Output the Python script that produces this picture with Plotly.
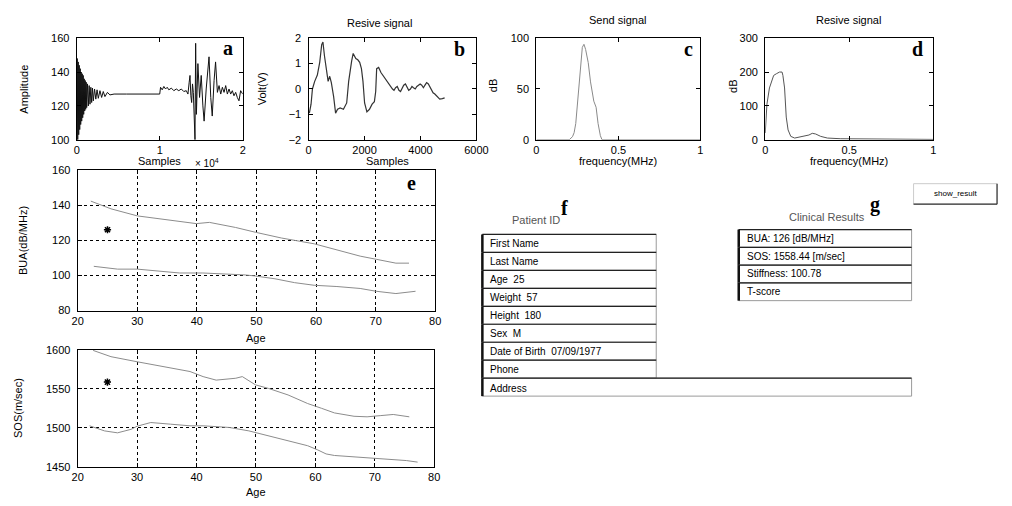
import plotly.graph_objects as go

W, H = 1012, 506

# ---------------- data ----------------
a_samples = [0, 60, 120, 180, 240, 300, 360, 420, 480, 540, 600, 660, 720, 780, 840, 900, 960, 1020, 1080, 1140,
             1200, 1300, 1400, 1500, 1600, 1700, 1800, 1900, 2000, 2150, 2300, 2450, 2600, 2800, 3000, 3200, 3400,
             3700, 4000, 4500, 6000, 8000, 10000, 10100, 10300, 10500, 10700, 10900, 11100, 11400, 11700, 12000,
             12300, 12600, 12900, 13200, 13400, 13550, 13650, 13750, 13850, 13950, 14050,
             14250, 14330, 14420, 14600, 14800, 15000, 15200, 15350, 15600, 15800, 15940, 16150, 16330, 16550,
             16730, 16950, 17150, 17350, 17550, 17750, 17950, 18150, 18350, 18550, 18750, 18950, 19150, 19350,
             19550, 19750, 20000]
a_amplitude = [126, 148, 100, 146, 103, 144, 106, 142, 109, 140, 111, 139, 113, 138, 115, 136, 117, 135, 118, 134,
               119, 133, 120, 132, 121, 131, 122, 130.5, 123, 130, 124, 129.5, 124.5, 129, 125, 128.5, 125.5,
               128, 126.5, 127, 127, 127, 127, 131, 129.5, 131.5, 130, 131, 129.5, 130.5, 129, 130,
               129, 130, 128.5, 129, 127, 134, 138, 126, 122, 133, 128,
               100, 157, 115, 145, 125, 138, 120, 111, 130, 140, 149, 125, 114, 135,
               146, 128, 132, 127, 131, 128, 132, 127, 130, 127, 129, 126, 128, 125,
               123, 129, 127]

b_samples = [30, 90, 140, 220, 315, 400, 470, 515, 570, 640, 700, 757, 815, 897, 967, 1038, 1130, 1247, 1364, 1434,
             1478, 1540, 1595, 1689, 1760, 1828, 1890, 1945, 2003, 2085, 2178, 2272, 2353, 2400, 2434, 2505, 2587,
             2650, 2703, 2760, 2820, 2880, 2937, 3000, 3054, 3110, 3170, 3230, 3287, 3350, 3400, 3462, 3520, 3579,
             3640, 3695, 3750, 3812, 3870, 3930, 3987, 4045, 4104, 4160, 4220, 4280, 4337, 4400, 4450, 4512, 4600,
             4687, 4780, 4862]
b_volt = [-0.95, -0.6, 0.0, 0.3, 0.55, 1.05, 1.75, 1.85, 1.3, 0.7, 0.3, 0.5, 0.25, -0.3, -0.95, -0.8, -0.75, -0.8,
          -0.55, 0.3, 0.7, 1.1, 1.4, 1.2, 1.15, 1.05, 0.8, 0.3, -0.55, -0.9, -0.8, -0.6, -0.5, -0.1, 0.8, 0.85, 0.65,
          0.55, 0.45, 0.35, 0.3, 0.2, 0.1, 0.0, -0.05, 0.05, 0.1, -0.05, -0.1, 0.05, 0.15, 0.2, 0.05, -0.05,
          0.0, 0.1, 0.05, 0.0, 0.1, 0.15, 0.2, 0.15, 0.05, 0.15, 0.25, 0.2, 0.1, -0.05, -0.15, -0.2, -0.3,
          -0.4, -0.38, -0.35]

c_freq = [0, 0.2, 0.22, 0.23, 0.24, 0.25, 0.26, 0.27, 0.28, 0.29, 0.30, 0.316, 0.33, 0.35, 0.364, 0.376, 0.39, 0.40,
          0.5, 1.0]
c_db = [0, 0, 3, 7, 16, 36, 58, 77, 91, 94, 89, 76, 57, 38, 32, 16, 4, 0, 0, 0]

d_freq = [0.0, 0.006, 0.01, 0.025, 0.04, 0.05, 0.066, 0.085, 0.10, 0.105, 0.115, 0.12, 0.125, 0.136, 0.152, 0.175,
          0.224, 0.26, 0.28, 0.30, 0.33, 0.37, 0.45, 0.64, 0.84, 1.0]
d_db = [20, 77, 105, 153, 177, 190, 195, 200, 200, 190, 153, 115, 67, 29, 10, 5, 10, 14, 19, 17, 10, 5, 3, 2, 2, 1]

e_age_upper = [22.2, 25.6, 30, 35.5, 39.9, 42.1, 46.5, 49.8, 54.2, 59.7, 63.5, 67.4, 70.1, 73.4, 75.6]
e_bua_upper = [142.3, 137.9, 133.9, 131.3, 129.5, 130.2, 127.3, 124.6, 121.3, 118, 114.7, 111, 109.2, 107, 107]
e_age_lower = [22.7, 26.7, 30, 33.3, 37.1, 41, 44.3, 48.1, 49.8, 53.1, 56.4, 59.7, 63.5, 67.4, 70.1, 73.4, 76.7]
e_bua_lower = [105.2, 103.6, 103.6, 102.5, 101.4, 101.4, 101, 100.3, 99.7, 98.1, 95.9, 94.4, 93.7, 92.6, 91, 89.7, 91]

f_age_upper = [22.6, 25.6, 30, 34.5, 38.9, 41.1, 43.3, 46.6, 47.7, 49.9, 52.1, 55.4, 58.7, 61, 63.2, 66.5, 68.7,
               70.9, 73.1, 75.8]
f_sos_upper = [1599, 1591, 1584.5, 1578, 1572, 1565.5, 1561, 1563.4, 1565.5, 1555, 1550.4, 1542, 1531, 1525, 1519,
               1514.7, 1514, 1515.5, 1517, 1514]
f_age_lower = [22, 24.5, 26.7, 29, 30, 32.3, 35.6, 38.9, 41.1, 45.5, 48.8, 52.1, 55.4, 58.7, 60.4, 61.8, 63.2, 67.6,
               72, 75.3, 77.2]
f_sos_lower = [1502.5, 1496, 1493.5, 1498, 1502, 1506.7, 1504.6, 1502.5, 1502.5, 1500.4, 1496, 1489.9, 1483.6, 1477,
               1471.6, 1466.5, 1464.5, 1462, 1460, 1458, 1456]

patient_age = [25]
patient_bua = [126]
patient_sos = [1558.44]

patient_fields = ["First Name", "Last Name", "Age  25", "Weight  57", "Height  180", "Sex  M",
                  "Date of Birth  07/09/1977", "Phone"]
address_field = "Address"
clinical_fields = ["BUA: 126 [dB/MHz]", "SOS: 1558.44 [m/sec]", "Stiffness: 100.78", "T-score"]

a_xticks = [0, 10000, 20000]
a_xticklabels = ["0", "1", "2"]

# ---------------- layout helpers ----------------
FONT = "Liberation Sans"


def px(x):
    return x / W


def py(y):
    return 1 - y / H


fig = go.Figure()

panels = {
    # name: (left, right, top, bottom) in pixels
    "a": (72, 241, 33, 137),
    "b": (308, 479, 33, 137),
    "c": (540, 707, 33, 137),
    "d": (773, 944, 33, 137),
    "e": (73, 437, 168, 312),
    "f": (73, 436, 352, 472),
}
order = ["a", "b", "c", "d", "e", "f"]
ax_id = {k: (i + 1) for i, k in enumerate(order)}


def axis(domain, rng, grid=False, **kw):
    d = dict(domain=domain, range=rng, showline=True, mirror="ticks", linecolor="black", linewidth=1.2,
             ticks="inside", ticklen=4, tickcolor="black", tickfont=dict(family=FONT, size=11, color="black"),
             zeroline=False, showgrid=grid, fixedrange=True)
    if grid:
        d.update(gridcolor="black", griddash="dot", gridwidth=1)
    d.update(kw)
    return d


axis_specs = {
    "a": (dict(range=[0, 20000], tickvals=a_xticks, ticktext=a_xticklabels),
          dict(range=[100, 160], tickvals=[100, 120, 140, 160]), False),
    "b": (dict(range=[0, 6000], tickvals=[0, 2000, 4000, 6000]),
          dict(range=[-2, 2], tickvals=[-2, -1, 0, 1, 2]), False),
    "c": (dict(range=[0, 1], tickvals=[0, 0.5, 1]),
          dict(range=[0, 100], tickvals=[0, 50, 100]), False),
    "d": (dict(range=[0, 1], tickvals=[0, 0.5, 1]),
          dict(range=[0, 300], tickvals=[0, 100, 200, 300]), False),
    "e": (dict(range=[20, 80], tickvals=[20, 30, 40, 50, 60, 70, 80]),
          dict(range=[80, 160], tickvals=[80, 100, 120, 140, 160]), True),
    "f": (dict(range=[20, 80], tickvals=[20, 30, 40, 50, 60, 70, 80]),
          dict(range=[1450, 1600], tickvals=[1450, 1500, 1550, 1600]), True),
}

layout_axes = {}
for k in order:
    l, r, t, b = panels[k]
    n = ax_id[k]
    xs, ys, grid = axis_specs[k]
    xname = "xaxis" if n == 1 else f"xaxis{n}"
    yname = "yaxis" if n == 1 else f"yaxis{n}"
    xa = axis([px(l), px(r)], xs.pop("range"), grid, **xs)
    ya = axis([py(b), py(t)], ys.pop("range"), grid, ticklabelstandoff=4, **ys)
    xa["anchor"] = "y" if n == 1 else f"y{n}"
    ya["anchor"] = "x" if n == 1 else f"x{n}"
    layout_axes[xname] = xa
    layout_axes[yname] = ya


def xy(k):
    n = ax_id[k]
    return ("x" if n == 1 else f"x{n}"), ("y" if n == 1 else f"y{n}")


def line(k, x, y, color, width=1, dash="solid"):
    xa, ya = xy(k)
    fig.add_trace(go.Scatter(x=x, y=y, mode="lines", xaxis=xa, yaxis=ya, showlegend=False,
                             line=dict(color=color, width=width, dash=dash), hoverinfo="skip"))


line("a", a_samples, a_amplitude, "#111111", 1)
line("b", b_samples, b_volt, "#333333", 1.2)
line("c", c_freq, c_db, "#8a8a8a", 1)
line("d", d_freq, d_db, "#555555", 1)
line("e", e_age_upper, e_bua_upper, "#8c8c8c", 1)
line("e", e_age_lower, e_bua_lower, "#8c8c8c", 1)
line("f", f_age_upper, f_sos_upper, "#8c8c8c", 1)
line("f", f_age_lower, f_sos_lower, "#8c8c8c", 1)

for k, yv in (("e", patient_bua), ("f", patient_sos)):
    xa, ya = xy(k)
    fig.add_trace(go.Scatter(x=patient_age, y=yv, mode="markers", xaxis=xa, yaxis=ya, showlegend=False,
                             marker=dict(symbol="asterisk-open", size=6, color="black",
                                         line=dict(color="black", width=1.5)), hoverinfo="skip"))

ann = []


def text(x, y, s, size=11, color="black", angle=0, family=FONT, xanchor="center", bold=False):
    ann.append(dict(x=px(x), y=py(y), xref="paper", yref="paper", text=f"<b>{s}</b>" if bold else s,
                    showarrow=False, textangle=angle, xanchor=xanchor, yanchor="middle",
                    font=dict(family=family, size=size, color=color)))


# axis labels
text(18, 85, "Amplitude", angle=-90)
text(261, 85, "Volt(V)", angle=-90)
text(496, 82, "dB", angle=-90)
text(740, 82, "dB", angle=-90)
text(18, 240, "BUA(dB/MHz)", angle=-90)
text(12, 412, "SOS(m/sec)", angle=-90)
text(156, 159, "Samples")
text(388, 159, "Samples")
text(623, 159, "frequency(MHz)")
text(858, 159, "frequency(MHz)")
text(255, 340, "Age")
text(255, 498, "Age")
text(205, 161, "× 10<sup>4</sup>", size=10)
# titles
text(380, 17, "Resive signal")
text(623, 14, "Send signal")
text(858, 14, "Resive signal")

# panel letters
serif = "Liberation Serif"
for s, x, y in (("a", 226, 43), ("b", 462, 44), ("c", 695, 44), ("d", 928, 44), ("e", 413, 181),
                ("f", 569, 207), ("g", 885, 203)):
    text(x, y, s, size=20, family=serif, bold=True)

# text panels
shapes = []


def box(l, t, r, b):
    shapes.append(dict(type="rect", xref="paper", yref="paper", x0=px(l), x1=px(r), y0=py(b), y1=py(t),
                       line=dict(color="#9a9a9a", width=1), fillcolor="rgba(0,0,0,0)"))
    shapes.append(dict(type="line", xref="paper", yref="paper", x0=px(l), x1=px(r), y0=py(t), y1=py(t),
                       line=dict(color="#222222", width=1.2)))
    shapes.append(dict(type="line", xref="paper", yref="paper", x0=px(l), x1=px(l), y0=py(b), y1=py(t),
                       line=dict(color="#111111", width=2.5)))


text(540, 219, "Patient ID", color="#555555")
row_h = 18.4
top0 = 234
for i, s in enumerate(patient_fields):
    t = top0 + i * row_h
    box(485, t, 662, t + row_h)
    text(491, t + row_h / 2, s, size=10, xanchor="left")
t_addr = top0 + len(patient_fields) * row_h
box(485, t_addr, 922, t_addr + row_h)
text(491, t_addr + row_h / 2 + 1, address_field, size=10, xanchor="left")

text(836, 216, "Clinical Results", color="#555555")
for i, s in enumerate(clinical_fields):
    t = 229 + i * 18.2
    box(746, t, 922, t + 18.2)
    text(752, t + 9.1, s, size=10, xanchor="left")

# show_result button
shapes.append(dict(type="rect", xref="paper", yref="paper", x0=px(924), x1=px(1009), y0=py(203), y1=py(182),
                   line=dict(color="#cccccc", width=1), fillcolor="white"))
shapes.append(dict(type="line", xref="paper", yref="paper", x0=px(924), x1=px(1009), y0=py(203), y1=py(203),
                   line=dict(color="#333333", width=1.2)))
shapes.append(dict(type="line", xref="paper", yref="paper", x0=px(1009), x1=px(1009), y0=py(203), y1=py(182),
                   line=dict(color="#333333", width=1.2)))
text(967, 192, "show_result", size=8)

fig.update_layout(width=W, height=H, margin=dict(l=0, r=0, t=0, b=0), paper_bgcolor="white",
                  plot_bgcolor="white", showlegend=False, annotations=ann, shapes=shapes, **layout_axes)

fig.write_html("out.html", config={"displayModeBar": False},
               post_script="document.body.style.margin='0px';")
